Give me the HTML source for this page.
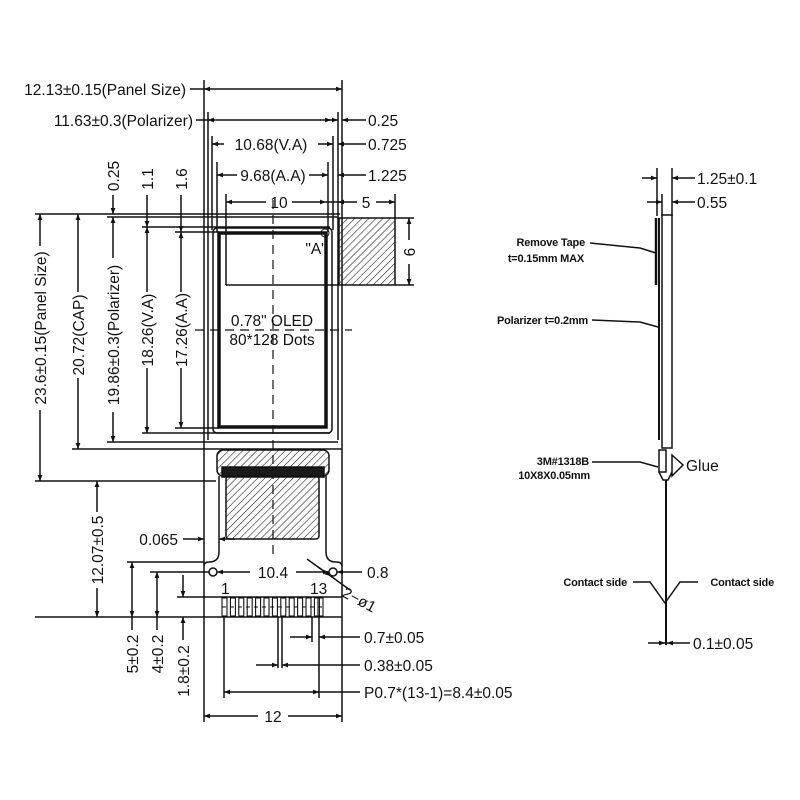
<!DOCTYPE html>
<html><head><meta charset="utf-8"><style>
html,body{margin:0;padding:0;background:#fff;}
svg{display:block;}
text{font-family:"Liberation Sans",sans-serif;fill:#111;}
</style></head><body>
<svg width="800" height="800" viewBox="0 0 800 800" xmlns="http://www.w3.org/2000/svg">
<defs>
<marker id="a" viewBox="0 0 10 10" refX="10" refY="5" markerWidth="10" markerHeight="6" orient="auto-start-reverse" markerUnits="userSpaceOnUse"><path d="M0,1 L10,5 L0,9 z" fill="#111"/></marker>
<pattern id="h" width="5" height="5" patternUnits="userSpaceOnUse" patternTransform="rotate(45)"><line x1="0" y1="0" x2="0" y2="5" stroke="#222" stroke-width="1.2"/></pattern>
</defs>
<rect width="800" height="800" fill="#fff"/>
<g stroke="#111" stroke-width="1.5" fill="none">
<line x1="204" y1="80" x2="204" y2="722"/>
<line x1="342" y1="80" x2="342" y2="722"/>
<line x1="208" y1="112" x2="208" y2="440"/>
<line x1="338" y1="112" x2="338" y2="440"/>
<line x1="212" y1="136" x2="212" y2="230"/>
<line x1="333" y1="136" x2="333" y2="230"/>
<line x1="217" y1="162" x2="217" y2="232"/>
<line x1="328" y1="162" x2="328" y2="232"/>
<line x1="226" y1="194" x2="226" y2="285"/>
<line x1="395" y1="194" x2="395" y2="218"/>
<line x1="190" y1="89" x2="204" y2="89"/>
<line x1="204" y1="89" x2="342" y2="89" marker-start="url(#a)" marker-end="url(#a)"/>
<line x1="196" y1="120" x2="208" y2="120"/>
<line x1="208" y1="120" x2="331" y2="120" marker-start="url(#a)" marker-end="url(#a)"/>
<line x1="326" y1="120" x2="338" y2="120" marker-end="url(#a)"/>
<line x1="356" y1="120" x2="342" y2="120" marker-end="url(#a)"/>
<line x1="356" y1="120" x2="366" y2="120"/>
<line x1="212" y1="144" x2="224" y2="144" marker-start="url(#a)"/>
<line x1="318" y1="144" x2="333" y2="144" marker-end="url(#a)"/>
<line x1="350" y1="144" x2="338" y2="144" marker-end="url(#a)"/>
<line x1="350" y1="144" x2="366" y2="144"/>
<line x1="217" y1="175" x2="237" y2="175" marker-start="url(#a)"/>
<line x1="309" y1="175" x2="328" y2="175" marker-end="url(#a)"/>
<line x1="350" y1="175" x2="338" y2="175" marker-end="url(#a)"/>
<line x1="350" y1="175" x2="366" y2="175"/>
<line x1="226" y1="202" x2="266" y2="202" marker-start="url(#a)"/>
<line x1="292" y1="202" x2="326" y2="202" marker-end="url(#a)"/>
<line x1="326" y1="202" x2="338" y2="202"/>
<line x1="338" y1="202" x2="357" y2="202" marker-start="url(#a)"/>
<line x1="376" y1="202" x2="395" y2="202" marker-end="url(#a)"/>
<line x1="35" y1="214" x2="340" y2="214"/>
<line x1="107" y1="217" x2="338" y2="217"/>
<line x1="142" y1="227" x2="330" y2="227"/>
<line x1="175" y1="232" x2="219" y2="232"/>
<line x1="175" y1="428" x2="219" y2="428"/>
<line x1="142" y1="433" x2="330" y2="433"/>
<line x1="107" y1="442" x2="338" y2="442"/>
<line x1="72" y1="449" x2="342" y2="449"/>
<line x1="35" y1="481" x2="216" y2="481"/>
<line x1="40" y1="214" x2="40" y2="246" marker-start="url(#a)"/>
<line x1="40" y1="410" x2="40" y2="481" marker-end="url(#a)"/>
<line x1="78" y1="214" x2="78" y2="292" marker-start="url(#a)"/>
<line x1="78" y1="378" x2="78" y2="449" marker-end="url(#a)"/>
<line x1="113" y1="195" x2="113" y2="214" marker-end="url(#a)"/>
<line x1="113" y1="217" x2="113" y2="258" marker-start="url(#a)"/>
<line x1="113" y1="412" x2="113" y2="442" marker-end="url(#a)"/>
<line x1="147" y1="195" x2="147" y2="227" marker-end="url(#a)"/>
<line x1="147" y1="227" x2="147" y2="292" marker-start="url(#a)"/>
<line x1="147" y1="368" x2="147" y2="433" marker-end="url(#a)"/>
<line x1="181" y1="195" x2="181" y2="232" marker-end="url(#a)"/>
<line x1="181" y1="232" x2="181" y2="292" marker-start="url(#a)"/>
<line x1="181" y1="368" x2="181" y2="428" marker-end="url(#a)"/>
<rect x="213" y="228" width="119" height="205" rx="4"/>
<rect x="219" y="233" width="107" height="194" stroke-width="3.5"/>
<line x1="226" y1="285" x2="338" y2="285"/>
<rect x="339" y="218" width="56" height="67" fill="url(#h)"/>
<line x1="395" y1="218" x2="414" y2="218"/>
<line x1="395" y1="285" x2="414" y2="285"/>
<line x1="409" y1="218" x2="409" y2="240" marker-start="url(#a)"/>
<line x1="409" y1="264" x2="409" y2="285" marker-end="url(#a)"/>
<circle cx="325" cy="233" r="4" stroke-width="1"/>
<line x1="273" y1="200" x2="273" y2="560" stroke-dasharray="9,6" stroke-width="1.2"/>
<line x1="195" y1="330" x2="352" y2="330" stroke-dasharray="9,6" stroke-width="1.2"/>
<rect x="217" y="450" width="112" height="26" rx="6" fill="url(#h)"/>
<rect x="222" y="467" width="102" height="10" fill="#1a1a1a"/>
<rect x="226" y="476" width="93" height="63" rx="3" fill="url(#h)"/>
<path d="M219,476 L219,552 Q219,562 209,562 Q204,562 204,566"/>
<path d="M326,476 L326,552 Q326,562 336,562 Q342,562 342,566"/>
<circle cx="213" cy="572" r="4"/>
<circle cx="333" cy="572" r="4"/>
<line x1="177" y1="597" x2="342" y2="597"/>
<line x1="204" y1="617" x2="342" y2="617"/>
</g>
<g fill="none" stroke="#111" stroke-width="1.1">
<rect x="222" y="598" width="5" height="18"/><rect x="230.4" y="598" width="5" height="18"/><rect x="238.8" y="598" width="5" height="18"/><rect x="247.2" y="598" width="5" height="18"/><rect x="255.6" y="598" width="5" height="18"/><rect x="264" y="598" width="5" height="18"/><rect x="272.4" y="598" width="5" height="18"/><rect x="280.8" y="598" width="5" height="18"/><rect x="289.2" y="598" width="5" height="18"/><rect x="297.6" y="598" width="5" height="18"/><rect x="306" y="598" width="5" height="18"/><rect x="314.4" y="598" width="5" height="18"/><rect x="318" y="598" width="5" height="18"/>
<line x1="222" y1="607" x2="323" y2="607" stroke-dasharray="4,4"/>
</g>
<g stroke="#111" stroke-width="1.5" fill="none">
<line x1="217" y1="572" x2="250" y2="572" marker-start="url(#a)"/>
<line x1="296" y1="572" x2="329" y2="572" marker-end="url(#a)"/>
<line x1="355" y1="572" x2="337" y2="572" marker-end="url(#a)"/>
<line x1="355" y1="572" x2="362" y2="572"/>
<line x1="307" y1="559" x2="350" y2="590"/>
<line x1="318" y1="567" x2="331" y2="576" marker-end="url(#a)"/>
<line x1="183" y1="539" x2="204" y2="539" marker-end="url(#a)"/>
<line x1="235" y1="539" x2="219" y2="539" marker-end="url(#a)"/>
<line x1="127" y1="562" x2="204" y2="562"/>
<line x1="150" y1="572" x2="209" y2="572"/>
<line x1="35" y1="617" x2="204" y2="617"/>
<line x1="97" y1="481" x2="97" y2="512" marker-start="url(#a)"/>
<line x1="97" y1="588" x2="97" y2="617" marker-end="url(#a)"/>
<line x1="132" y1="562" x2="132" y2="617" marker-start="url(#a)" marker-end="url(#a)"/>
<line x1="132" y1="617" x2="132" y2="630"/>
<line x1="157" y1="572" x2="157" y2="617" marker-start="url(#a)" marker-end="url(#a)"/>
<line x1="157" y1="617" x2="157" y2="630"/>
<line x1="183" y1="575" x2="183" y2="597" marker-end="url(#a)"/>
<line x1="183" y1="640" x2="183" y2="617" marker-end="url(#a)"/>
<line x1="224" y1="617" x2="224" y2="698"/>
<line x1="319" y1="617" x2="319" y2="698"/>
<line x1="312" y1="617" x2="312" y2="642"/>
<line x1="278" y1="617" x2="278" y2="668"/>
<line x1="282" y1="617" x2="282" y2="668"/>
<line x1="290" y1="637" x2="312" y2="637" marker-end="url(#a)"/>
<line x1="335" y1="637" x2="319" y2="637" marker-end="url(#a)"/>
<line x1="335" y1="637" x2="360" y2="637"/>
<line x1="256" y1="665" x2="278" y2="665" marker-end="url(#a)"/>
<line x1="298" y1="665" x2="282" y2="665" marker-end="url(#a)"/>
<line x1="298" y1="665" x2="360" y2="665"/>
<line x1="224" y1="692" x2="319" y2="692" marker-start="url(#a)" marker-end="url(#a)"/>
<line x1="319" y1="692" x2="360" y2="692"/>
<line x1="204" y1="716" x2="258" y2="716" marker-start="url(#a)"/>
<line x1="288" y1="716" x2="342" y2="716" marker-end="url(#a)"/>
</g>
<g font-size="15.5">
<text x="186" y="95" text-anchor="end">12.13±0.15(Panel Size)</text>
<text x="193" y="126" text-anchor="end">11.63±0.3(Polarizer)</text>
<text x="368" y="126">0.25</text>
<text x="271" y="150" text-anchor="middle">10.68(V.A)</text>
<text x="368" y="150">0.725</text>
<text x="273" y="181" text-anchor="middle">9.68(A.A)</text>
<text x="368" y="181">1.225</text>
<text x="279" y="208" text-anchor="middle">10</text>
<text x="366" y="208" text-anchor="middle">5</text>
<text x="316" y="254" text-anchor="middle">"A"</text>
<text x="272" y="326" text-anchor="middle">0.78" OLED</text>
<text x="272" y="345" text-anchor="middle">80*128 Dots</text>
<text x="178" y="545" text-anchor="end">0.065</text>
<text x="273" y="578" text-anchor="middle">10.4</text>
<text x="367" y="578">0.8</text>
<text x="221" y="594">1</text>
<text x="310" y="594">13</text>
<text x="341" y="596" transform="rotate(28 341 596)">2−ø1</text>
<text x="364" y="643">0.7±0.05</text>
<text x="364" y="671">0.38±0.05</text>
<text x="364" y="698">P0.7*(13-1)=8.4±0.05</text>
<text x="273" y="722" text-anchor="middle">12</text>
<g text-anchor="middle">
<text transform="translate(46 328) rotate(-90)">23.6±0.15(Panel Size)</text>
<text transform="translate(84 335) rotate(-90)">20.72(CAP)</text>
<text transform="translate(119 335) rotate(-90)">19.86±0.3(Polarizer)</text>
<text transform="translate(153 330) rotate(-90)">18.26(V.A)</text>
<text transform="translate(187 330) rotate(-90)">17.26(A.A)</text>
<text transform="translate(119 176) rotate(-90)">0.25</text>
<text transform="translate(153 179) rotate(-90)">1.1</text>
<text transform="translate(187 179) rotate(-90)">1.6</text>
<text transform="translate(103 550) rotate(-90)">12.07±0.5</text>
<text transform="translate(138 654) rotate(-90)">5±0.2</text>
<text transform="translate(163 654) rotate(-90)">4±0.2</text>
<text transform="translate(189 671) rotate(-90)">1.8±0.2</text>
<text transform="translate(415 252) rotate(-90)">6</text>
</g>
</g>
<g stroke="#111" stroke-width="1.5" fill="none">
<line x1="657" y1="168" x2="657" y2="216"/>
<line x1="672" y1="168" x2="672" y2="216"/>
<line x1="662" y1="194" x2="662" y2="216"/>
<line x1="642" y1="178" x2="657" y2="178" marker-end="url(#a)"/>
<line x1="688" y1="178" x2="672" y2="178" marker-end="url(#a)"/>
<line x1="688" y1="178" x2="695" y2="178"/>
<line x1="647" y1="202" x2="662" y2="202" marker-end="url(#a)"/>
<line x1="688" y1="202" x2="672" y2="202" marker-end="url(#a)"/>
<line x1="688" y1="202" x2="695" y2="202"/>
<rect x="662" y="215" width="10" height="233"/>
<line x1="659" y1="218" x2="659" y2="440" stroke-width="2"/>
<line x1="656" y1="218" x2="656" y2="285" stroke-width="2.5"/>
<rect x="659" y="450" width="7" height="22"/>
<path d="M659,472 L663,480 L668,480 L672,472"/>
<path d="M672,455 L683,465 L672,476 Z"/>
<line x1="666" y1="480" x2="666" y2="645" stroke-width="2"/>
<path d="M590,243 L640,248 L656,253"/>
<path d="M592,320 L640,322 L658,327"/>
<path d="M592,462 L640,462 L658,467"/>
<path d="M633,582 L650,582 L665,603 L680,582 L698,582"/>
<line x1="648" y1="643" x2="665" y2="643" marker-end="url(#a)"/>
<line x1="684" y1="643" x2="667" y2="643" marker-end="url(#a)"/>
<line x1="684" y1="643" x2="690" y2="643"/>
</g>
<g font-size="15.5">
<text x="697" y="184">1.25±0.1</text>
<text x="697" y="208">0.55</text>
<text x="686" y="471">Glue</text>
<text x="693" y="649">0.1±0.05</text>
</g>
<g font-size="11" font-weight="bold" letter-spacing="-0.2" text-anchor="end">
<text x="585" y="246">Remove Tape</text>
<text x="584" y="262">t=0.15mm MAX</text>
<text x="588" y="324">Polarizer t=0.2mm</text>
<text x="589" y="465">3M#1318B</text>
<text x="590" y="479">10X8X0.05mm</text>
<text x="627" y="586">Contact side</text>
<text x="774" y="586">Contact side</text>
</g>
</svg>
</body></html>
